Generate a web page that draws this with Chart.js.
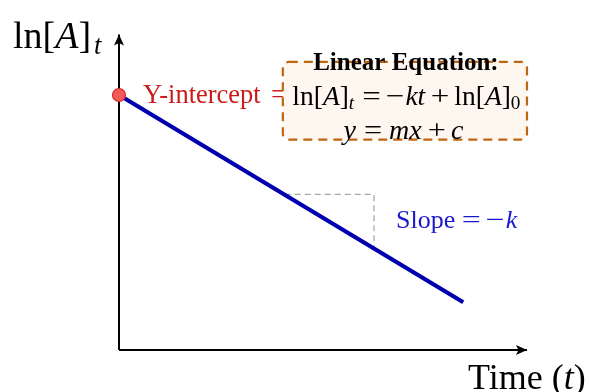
<!DOCTYPE html>
<html>
<head>
<meta charset="utf-8">
<script src="https://cdn.jsdelivr.net/npm/chart.js@4.4.1/dist/chart.umd.min.js"></script>
<style>
  html, body { margin: 0; padding: 0; background: #fff; }
  #wrap { width: 590px; height: 392px; }
</style>
</head>
<body>
<div id="wrap"><canvas id="grafico" width="590" height="392"></canvas></div>
<script>
// Dados do diagrama (unidades do gráfico)
const tempo = [0, 5.4];            // t
const lnA = [4, 0.75];             // ln[A]_t
const eixoX = [0, 6.4];            // eixo do tempo
const eixoY = [0, 4.95];           // eixo ln[A]
const inclinacaoX = [2.6, 4, 4];   // triângulo da inclinação
const inclinacaoY = [2.44, 2.44, 1.59];
const intercepto = [0, 4];

const pares = (xs, ys) => xs.map((x, i) => ({ x: x, y: ys[i] }));
const SERIF = '"Liberation Serif", "DejaVu Serif", serif';

// desenha texto com trechos: 'i' itálico, 'b' negrito, 's' subscrito,
// 'o' operador matemático (mais largo), ['', 'gap', px] = espaço em pixels
function textoRico(ctx, x, y, partes, tam, alinhar, cor, larguraOp) {
  larguraOp = larguraOp || 1.25;
  const fonte = (p) => {
    const est = p[1] || '';
    const s = est.includes('s') ? tam * 0.7 : tam;
    return (est.includes('i') ? 'italic ' : '') + (est.includes('b') ? 'bold ' : '') + s + 'px ' + SERIF;
  };
  const largura = (p) => {
    if (p[1] === 'gap') return p[2];
    ctx.font = fonte(p);
    const w = ctx.measureText(p[0]).width;
    return (p[1] || '').includes('o') ? w * larguraOp : w;
  };
  let total = 0;
  partes.forEach(p => { total += largura(p); });
  let cx = alinhar === 'center' ? x - total / 2 : x;
  ctx.fillStyle = cor;
  ctx.textAlign = 'left';
  ctx.textBaseline = 'alphabetic';
  partes.forEach(p => {
    const est = p[1] || '';
    if (est !== 'gap') {
      ctx.font = fonte(p);
      const dy = est.includes('s') ? tam * 0.15 : 0;
      if (est.includes('o')) {
        ctx.save();
        ctx.translate(cx, y);
        ctx.scale(larguraOp, 1);
        ctx.fillText(p[0], 0, 0);
        ctx.restore();
      } else {
        ctx.fillText(p[0], cx, y + dy);
      }
    }
    cx += largura(p);
  });
}

const g = (v) => ['', 'gap', v];

const anotacoes = {
  id: 'anotacoes',
  afterDatasetsDraw(chart) {
    const ctx = chart.ctx;
    const sx = chart.scales.x, sy = chart.scales.y;
    const px = v => sx.getPixelForValue(v), py = v => sy.getPixelForValue(v);
    ctx.save();

    // setas dos eixos
    ctx.fillStyle = '#000';
    const ponta = (x, y, dir) => {
      ctx.beginPath();
      if (dir === 'up') {
        ctx.moveTo(x, y); ctx.lineTo(x - 5, y + 11); ctx.lineTo(x, y + 8.5); ctx.lineTo(x + 5, y + 11);
      } else {
        ctx.moveTo(x, y); ctx.lineTo(x - 11, y - 5); ctx.lineTo(x - 8.5, y); ctx.lineTo(x - 11, y + 5);
      }
      ctx.closePath(); ctx.fill();
    };
    ponta(px(0), py(eixoY[1]), 'up');
    ponta(px(eixoX[1]), py(0), 'right');

    // rótulos dos eixos
    textoRico(ctx, px(0) - 106, py(eixoY[1]) + 14,
      [['ln['], ['A', 'i'], [']'], g(3), ['t', 'is']], 38, 'left', '#000');
    textoRico(ctx, px(eixoX[1]) - 59, 389,
      [['Time ('], ['t', 'i'], [')']], 36, 'left', '#000');

    // intercepto (parcialmente coberto pela caixa)
    textoRico(ctx, px(intercepto[0]) + 24, py(intercepto[1]) + 8,
      [['Y-intercept'], g(10), ['=', 'o'], g(4), ['ln['], ['A', 'i'], [']'], ['0', 's']],
      26.5, 'left', '#cc1a1a', 1.3);

    // inclinação
    textoRico(ctx, px(4) + 22, py(inclinacaoY[0]) + 34,
      [['Slope'], g(6.5), ['=', 'o'], g(5), ['−', 'o'], g(1), ['k', 'i']],
      26, 'left', '#1a1acc', 1.3);

    // caixa da equação
    const bx0 = px(2.57), bx1 = px(6.4), by0 = py(4.52), by1 = py(3.3);
    ctx.beginPath();
    ctx.roundRect(bx0, by0, bx1 - bx0, by1 - by0, 6);
    ctx.fillStyle = '#fef7ef';
    ctx.fill();
    ctx.setLineDash([9, 6]);
    ctx.lineWidth = 2.2;
    ctx.strokeStyle = '#c0650f';
    ctx.stroke();
    ctx.setLineDash([]);

    const cx = (bx0 + bx1) / 2;
    textoRico(ctx, cx + 1, 70, [['Linear Equation:', 'b']], 25, 'center', '#000');
    textoRico(ctx, cx + 1.5, 105,
      [['ln['], ['A', 'i'], [']'], ['t', 'is'], g(8), ['=', 'o'], g(5), ['−', 'o'], g(1), ['kt', 'i'],
       g(5.5), ['+', 'o'], g(5), ['ln['], ['A', 'i'], [']'], ['0', 's']],
      27.5, 'center', '#000', 1.2);
    textoRico(ctx, cx - 1.5, 139,
      [['y', 'i'], g(8), ['=', 'o'], g(7), ['mx', 'i'], g(6), ['+', 'o'], g(5), ['c', 'i']],
      28, 'center', '#000', 1.15);

    ctx.restore();
  }
};

new Chart(document.getElementById('grafico'), {
  type: 'scatter',
  data: {
    datasets: [
      {
        data: pares([intercepto[0]], [intercepto[1]]),
        pointRadius: 6.5, pointBackgroundColor: '#f25a5a', pointBorderColor: '#d42a2a',
        pointBorderWidth: 1.2, clip: false, order: 0
      },
      {
        data: pares(tempo, lnA), showLine: true, borderColor: '#0000b0', borderWidth: 4.2,
        pointRadius: 0, clip: false, order: 1
      },
      {
        data: pares(inclinacaoX, inclinacaoY), showLine: true, borderColor: '#a8a8a8', borderWidth: 1.3,
        borderDash: [6, 4], pointRadius: 0, clip: false, order: 2
      },
      {
        data: pares([0, 0], eixoY), showLine: true, borderColor: '#000', borderWidth: 2,
        pointRadius: 0, clip: false, order: 3
      },
      {
        data: pares(eixoX, [0, 0]), showLine: true, borderColor: '#000', borderWidth: 2,
        pointRadius: 0, clip: false, order: 3
      }
    ]
  },
  options: {
    responsive: false,
    animation: false,
    devicePixelRatio: 1,
    layout: { padding: { left: 119, right: 24.75, top: 18.5, bottom: 42 } },
    scales: {
      x: { type: 'linear', min: 0, max: 7, display: false },
      y: { type: 'linear', min: 0, max: 5.2, display: false }
    },
    plugins: { legend: { display: false }, tooltip: { enabled: false } }
  },
  plugins: [anotacoes]
});
</script>
</body>
</html>
